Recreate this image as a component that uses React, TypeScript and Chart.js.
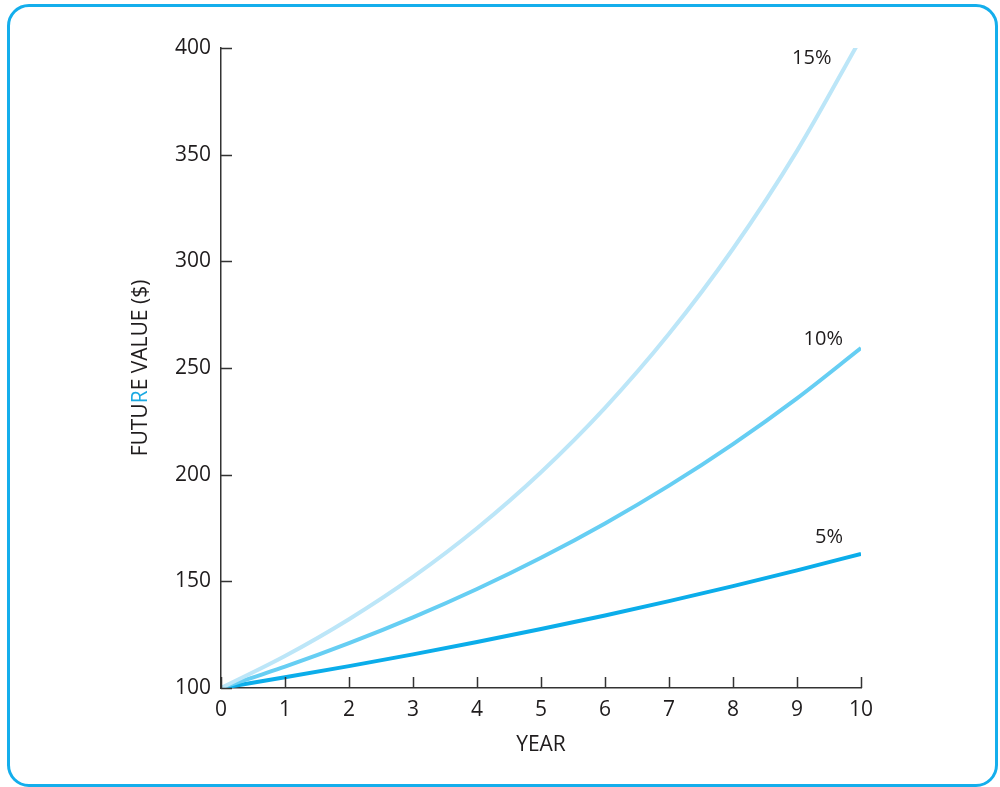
import React, { useEffect, useRef } from "react";
import { Chart, registerables } from "chart.js";

Chart.register(...registerables);

const years = [0, 1, 2, 3, 4, 5, 6, 7, 8, 9, 10];
const rate5 = [100, 105, 110.25, 115.76, 121.55, 127.63, 134.01, 140.71, 147.75, 155.13, 162.89];
const rate10 = [100, 110, 121, 133.1, 146.41, 161.05, 177.16, 194.87, 214.36, 235.79, 259.37];
const rate15 = [100, 115, 132.25, 152.09, 174.9, 201.14, 231.31, 266.0, 305.9, 351.79, 404.56];
const seriesLabels = ["15%", "10%", "5%"];
const labelX = [9.23, 9.41, 9.5];
const labelY = [395.3, 263.6, 170.8];

const FONT = "'Open Sans', 'DejaVu Sans', sans-serif";
const TEXT = "#1f1c1d";

const tickPlugin = {
  id: "inwardTicks",
  afterDraw(chart: any) {
    const ctx = chart.ctx;
    const x = chart.scales.x;
    const y = chart.scales.y;
    const area = chart.chartArea;
    ctx.save();
    ctx.strokeStyle = "#333";
    ctx.lineWidth = 1.5;
    ctx.beginPath();
    x.ticks.forEach((t: any) => {
      const px = Math.round(x.getPixelForValue(t.value)) + 0.5;
      ctx.moveTo(px, area.bottom);
      ctx.lineTo(px, area.bottom - 11);
    });
    y.ticks.forEach((t: any) => {
      const py = Math.round(y.getPixelForValue(t.value)) + 0.5;
      ctx.moveTo(area.left, py);
      ctx.lineTo(area.left + 11, py);
    });
    ctx.stroke();

    // series labels
    ctx.fillStyle = TEXT;
    ctx.font = `400 20px ${FONT}`;
    ctx.textAlign = "center";
    ctx.textBaseline = "middle";
    seriesLabels.forEach((s, i) => {
      ctx.fillText(s, x.getPixelForValue(labelX[i]), y.getPixelForValue(labelY[i]));
    });

    // x title
    ctx.font = `400 21px ${FONT}`;
    ctx.fillText("YEAR", (area.left + area.right) / 2, 745);

    // y title with blue R
    const parts = [
      { t: "FUTU", c: TEXT },
      { t: "R", c: "#1aa9e2" },
      { t: "E VALUE ($)", c: TEXT },
    ];
    ctx.translate(141, (area.top + area.bottom) / 2);
    ctx.rotate(-Math.PI / 2);
    const total = parts.reduce((a, p) => a + ctx.measureText(p.t).width, 0);
    let cx = -total / 2;
    ctx.textAlign = "left";
    parts.forEach((p) => {
      ctx.fillStyle = p.c;
      ctx.fillText(p.t, cx, 0);
      cx += ctx.measureText(p.t).width;
    });
    ctx.restore();
  },
};

export default function App() {
  const ref = useRef<HTMLCanvasElement>(null);
  useEffect(() => {
    const ds = (data: number[], color: string) => ({
      data: years.map((yr, i) => ({ x: yr, y: data[i] })),
      borderColor: color,
      borderWidth: 4,
      pointRadius: 0,
      fill: false,
      cubicInterpolationMode: "monotone" as const,
    });
    const chart = new Chart(ref.current!, {
      type: "line",
      data: {
        datasets: [ds(rate15, "#bce6f8"), ds(rate10, "#66cef3"), ds(rate5, "#0badea")],
      },
      options: {
        animation: false,
        responsive: false,
        maintainAspectRatio: false,
        layout: { padding: { left: 0, right: 139, top: 48, bottom: 0 } },
        plugins: { legend: { display: false }, tooltip: { enabled: false } },
        scales: {
          x: {
            type: "linear",
            min: 0,
            max: 10,
            grid: { display: false, drawTicks: false },
            border: { display: true, color: "#333", width: 1.5 },
            ticks: { stepSize: 1, padding: 9, color: TEXT, font: { family: FONT, size: 21, weight: "400" } },
            afterFit: (s: any) => { s.height = 99; },
          },
          y: {
            type: "linear",
            min: 100,
            max: 400,
            grid: { display: false, drawTicks: false },
            border: { display: true, color: "#333", width: 1.5 },
            ticks: { stepSize: 50, padding: 10, color: TEXT, font: { family: FONT, size: 21, weight: "400" } },
            afterFit: (s: any) => { s.width = 221; },
          },
        },
      },
      plugins: [tickPlugin],
    });
    return () => chart.destroy();
  }, []);
  return (
    <div style={{ position: "fixed", left: 0, top: 0, width: 1000, height: 787, background: "#fff" }}>
      <div
        style={{
          position: "absolute",
          left: 7,
          top: 4,
          width: 991,
          height: 783,
          boxSizing: "border-box",
          border: "3px solid #14aeec",
          borderRadius: 22,
        }}
      />
      <canvas ref={ref} width={1000} height={787} style={{ position: "absolute", left: 0, top: 0 }} />
    </div>
  );
}
